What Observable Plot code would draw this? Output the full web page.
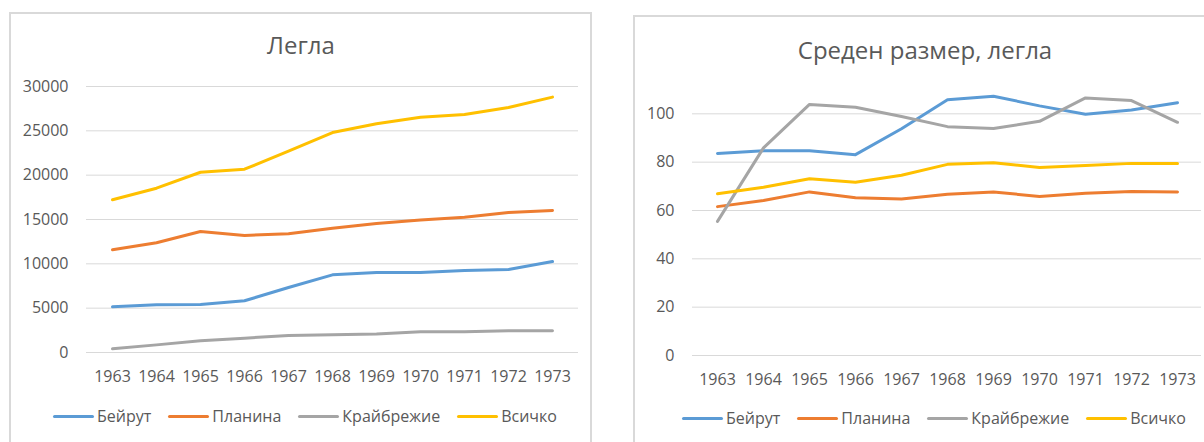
<!DOCTYPE html>
<html>
<head>
<meta charset="utf-8">
<script src="https://cdn.jsdelivr.net/npm/d3@7"></script>
<script src="https://cdn.jsdelivr.net/npm/@observablehq/plot@0.6"></script>
<style>
  html, body { margin: 0; padding: 0; background: #fff; }
  body { width: 1204px; height: 442px; position: relative; overflow: hidden; font-family: "Open Sans", sans-serif; color: #595959; }
  .frame { position: absolute; border: 2px solid #d9d9d9; box-sizing: border-box; background: #fff; }
  .title { position: absolute; width: 500px; text-align: center; font-size: 24px; line-height: 24px; color: #595959; white-space: nowrap; }
  .plot { position: absolute; top: 0; }
  .legend { position: absolute; width: 600px; display: flex; justify-content: center; align-items: center; gap: 17px; font-size: 16px; line-height: 16px; color: #595959; white-space: nowrap; }
  .item { display: flex; align-items: center; gap: 3px; }
  .swatch { width: 41px; height: 3px; border-radius: 2px; }
</style>
</head>
<body>
<div class="frame" style="left:9px; top:12px; width:583px; height:460px;"></div>
<div class="frame" style="left:633px; top:15px; width:620px; height:460px;"></div>
<div class="title" id="t1" style="left:51px; top:33px;"></div>
<div class="title" id="t2" style="left:675px; top:38px;"></div>
<div class="plot" id="p1" style="left:0px;"></div>
<div class="plot" id="p2" style="left:604px;"></div>
<div class="legend" id="l1" style="left:5px; top:408px;"></div>
<div class="legend" id="l2" style="left:634px; top:410px;"></div>
<script>
// ---- data ----
const years = ["1963","1964","1965","1966","1967","1968","1969","1970","1971","1972","1973"];
const seriesNames = ["Бейрут", "Планина", "Крайбрежие", "Всичко"];
const seriesColors = ["#5b9bd5", "#ed7d31", "#a5a5a5", "#ffc000"];

const title1 = "Легла";
const title2 = "Среден размер, легла";

// Легла (beds)
const beirutBeds   = [5150, 5380, 5410, 5830, 7330, 8760, 9020, 9020, 9250, 9360, 10260];
const mountainBeds = [11580, 12370, 13650, 13200, 13390, 14020, 14550, 14950, 15260, 15790, 16010];
const coastBeds    = [410, 860, 1320, 1620, 1920, 1990, 2100, 2330, 2350, 2440, 2450];
const totalBeds    = [17220, 18530, 20330, 20670, 22700, 24810, 25790, 26540, 26840, 27630, 28800];
const bedsTicks = [0, 5000, 10000, 15000, 20000, 25000, 30000];

// Среден размер, легла (average size, beds)
const beirutSize   = [83.6, 84.7, 84.7, 83.1, 93.8, 105.8, 107.3, 103.3, 99.8, 101.6, 104.6];
const mountainSize = [61.6, 64.1, 67.7, 65.3, 64.8, 66.7, 67.7, 65.8, 67.1, 67.9, 67.7];
const coastSize    = [55.5, 85.9, 103.9, 102.7, 98.9, 94.7, 93.9, 96.9, 106.6, 105.5, 96.5];
const totalSize    = [66.9, 69.6, 73.1, 71.7, 74.6, 79.1, 79.8, 77.8, 78.6, 79.5, 79.5];
const sizeTicks = [0, 20, 40, 60, 80, 100];

function toRows(arrays) {
  const rows = [];
  arrays.forEach((arr, si) => arr.forEach((v, i) => rows.push({series: seriesNames[si], year: years[i], value: v})));
  return rows;
}

function chart(rows, opts) {
  return Plot.plot({
    width: opts.width,
    height: opts.height,
    marginLeft: opts.ml,
    marginRight: opts.mr,
    marginTop: opts.mt,
    marginBottom: opts.mb,
    style: {fontFamily: "'Open Sans', sans-serif", fontSize: "16px", color: "#595959", background: "transparent", overflow: "visible"},
    x: {type: "point", domain: years, padding: 0.5},
    y: {domain: opts.domain},
    color: {domain: seriesNames, range: seriesColors},
    marks: [
      Plot.gridY(opts.ticks, {stroke: "#d9d9d9", strokeOpacity: 1, strokeWidth: 1}),
      Plot.axisY({ticks: opts.ticks, tickSize: 0, tickPadding: 18, tickFormat: d => String(d), label: null, fill: "#595959"}),
      Plot.axisX({tickSize: 0, tickPadding: 18, label: null, fill: "#595959"}),
      Plot.line(rows, {x: "year", y: "value", z: "series", stroke: "series", strokeWidth: 3, strokeLinecap: "round", strokeLinejoin: "round"})
    ]
  });
}

document.getElementById("t1").textContent = title1;
document.getElementById("t2").textContent = title2;

document.getElementById("p1").appendChild(chart(toRows([beirutBeds, mountainBeds, coastBeds, totalBeds]),
  {width: 600, height: 395, ml: 86, mr: 22, mt: 86, mb: 43, domain: [0, 30000], ticks: bedsTicks}));
document.getElementById("p2").appendChild(chart(toRows([beirutSize, mountainSize, coastSize, totalSize]),
  {width: 600, height: 400, ml: 88, mr: 3, mt: 65, mb: 45, domain: [0, 120], ticks: sizeTicks}));

function legend(id) {
  const el = document.getElementById(id);
  seriesNames.forEach((name, i) => {
    const item = document.createElement("div");
    item.className = "item";
    const sw = document.createElement("div");
    sw.className = "swatch";
    sw.style.background = seriesColors[i];
    const tx = document.createElement("span");
    tx.textContent = name;
    item.appendChild(sw);
    item.appendChild(tx);
    el.appendChild(item);
  });
}
legend("l1");
legend("l2");
</script>
</body>
</html>
